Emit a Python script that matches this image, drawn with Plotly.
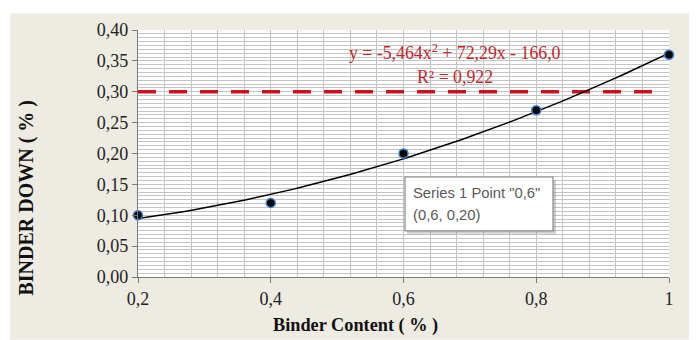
import numpy as np
import plotly.graph_objects as go

# ---- data ----
binder_content = [0.2, 0.4, 0.6, 0.8, 1.0]
binder_down = [0.10, 0.12, 0.20, 0.27, 0.36]
limit_value = 0.30
x_tick_vals = [0.2, 0.4, 0.6, 0.8, 1.0]
x_tick_text = ["0,2", "0,4", "0,6", "0,8", "1"]
y_tick_vals = [0.0, 0.05, 0.10, 0.15, 0.20, 0.25, 0.30, 0.35, 0.40]
y_tick_text = ["0,00", "0,05", "0,10", "0,15", "0,20", "0,25", "0,30", "0,35", "0,40"]
equation_text = "y = -5,464x<sup>2</sup> + 72,29x - 166,0"
r2_text = "R² = 0,922"
tooltip_lines = ['Series 1 Point "0,6"', "(0,6, 0,20)"]

# polynomial trendline (order 2) fitted to the data
coef = np.polyfit(binder_content, binder_down, 2)
xt = np.linspace(min(binder_content), max(binder_content), 100)
yt = np.polyval(coef, xt)

# page has an 8px body margin; work in reference pixels and shift
OFF = 8
W, H = 697 - OFF, 340 - OFF
L, R, T, B = 138 - OFF, 669 - OFF, 25 - OFF, 277 - OFF  # plot area pixels in figure

def px(p):
    return (p - OFF - L) / (R - L)

def py(p):
    return (B - (p - OFF)) / (B - T)

fig = go.Figure()

fig.add_trace(go.Scatter(
    x=[0.2, 0.99], y=[limit_value, limit_value], mode="lines",
    line=dict(color="#c8141e", width=3.5, dash="18px,13px"),
    hoverinfo="skip", showlegend=False))

fig.add_trace(go.Scatter(
    x=xt, y=yt, mode="lines", line=dict(color="#000000", width=1.5),
    hoverinfo="skip", showlegend=False))

fig.add_trace(go.Scatter(
    x=binder_content, y=binder_down, mode="markers",
    marker=dict(size=9, color="#050505", line=dict(color="#3f7fc8", width=1.5)),
    showlegend=False, cliponaxis=False))

serif = "Liberation Serif, Times New Roman, serif"

shapes = [
    dict(type="rect", xref="paper", yref="paper", layer="below",
         x0=px(10), x1=px(694), y0=py(341), y1=py(8),
         fillcolor="#eeebe2", line=dict(width=0)),
    dict(type="rect", xref="paper", yref="paper", layer="below",
         x0=0, x1=1, y0=0, y1=1, fillcolor="#ffffff", line=dict(width=0)),
    # tooltip shadow and box
    dict(type="rect", xref="paper", yref="paper", layer="above",
         x0=px(407), x1=px(556), y0=py(233), y1=py(178),
         fillcolor="rgba(120,120,120,0.35)", line=dict(width=0)),
    dict(type="rect", xref="paper", yref="paper", layer="above",
         x0=px(405), x1=px(553), y0=py(230), y1=py(175),
         fillcolor="#ffffff", line=dict(color="#8a8a8a", width=1.2)),
]

annotations = [
    dict(text=equation_text, xref="paper", yref="paper", x=px(455), y=py(47),
         showarrow=False, font=dict(family=serif, size=17.8, color="#c0282d"),
         xanchor="center", yanchor="middle"),
    dict(text=r2_text, xref="paper", yref="paper", x=px(455), y=py(73),
         showarrow=False, font=dict(family=serif, size=17.8, color="#c0282d"),
         xanchor="center", yanchor="middle"),
    dict(text=tooltip_lines[0], xref="paper", yref="paper", x=px(411), y=py(191),
         showarrow=False, font=dict(family="Liberation Sans, Arial", size=14.8, color="#5a5a5a"),
         xanchor="left", yanchor="middle"),
    dict(text=tooltip_lines[1], xref="paper", yref="paper", x=px(411), y=py(214),
         showarrow=False, font=dict(family="Liberation Sans, Arial", size=14.8, color="#5a5a5a"),
         xanchor="left", yanchor="middle"),
    dict(text="<b>BINDER DOWN ( % )</b>", xref="paper", yref="paper", x=px(27), y=py(196),
         showarrow=False, textangle=-90, font=dict(family=serif, size=20, color="#111111"),
         xanchor="center", yanchor="middle"),
    dict(text="<b>Binder Content ( % )</b>", xref="paper", yref="paper", x=px(355), y=py(326),
         showarrow=False, font=dict(family=serif, size=18.3, color="#111111"),
         xanchor="center", yanchor="middle"),
]

fig.update_layout(
    width=W, height=H,
    margin=dict(l=L, r=W - R, t=T, b=H - B, pad=0),
    paper_bgcolor="#ffffff", plot_bgcolor="rgba(0,0,0,0)",
    shapes=shapes, annotations=annotations, showlegend=False,
    xaxis=dict(range=[0.2, 1.0], tickvals=x_tick_vals, ticktext=x_tick_text,
               showgrid=True, gridcolor="#c4c4c4", gridwidth=1,
               minor=dict(dtick=0.04, tick0=0.2, showgrid=True, gridcolor="#c4c4c4", gridwidth=1),
               showline=True, linecolor="#7a7a7a", linewidth=1.2,
               ticks="outside", ticklen=5, tickcolor="#7a7a7a",
               tickfont=dict(family=serif, size=18, color="#222222"),
               zeroline=False, fixedrange=True),
    yaxis=dict(range=[0, 0.4], tickvals=y_tick_vals, ticktext=y_tick_text,
               showgrid=True, gridcolor="#c4c4c4", gridwidth=1,
               minor=dict(dtick=0.00625, tick0=0, showgrid=True, gridcolor="#c4c4c4", gridwidth=1),
               showline=True, linecolor="#7a7a7a", linewidth=1.2,
               ticks="outside", ticklen=5, tickcolor="#7a7a7a",
               tickfont=dict(family=serif, size=18, color="#222222"),
               zeroline=False, fixedrange=True),
)

fig.write_html("out.html")
